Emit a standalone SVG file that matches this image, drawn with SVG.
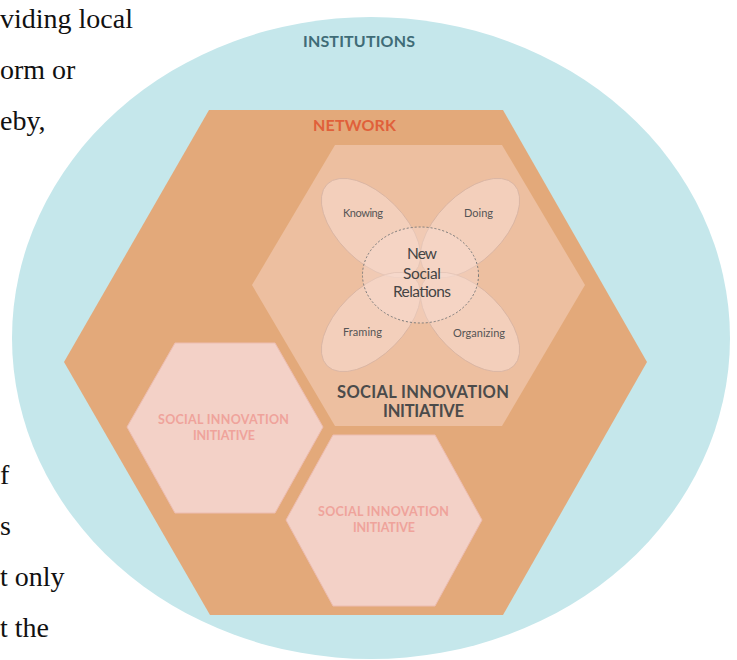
<svg xmlns="http://www.w3.org/2000/svg" width="737" height="660" viewBox="0 0 737 660">
  <style>
    .body { font-family: "Liberation Serif", "Times New Roman", serif; font-size: 28px; fill: #111; }
    .cap { font-family: Lato, "Noto Sans", "Liberation Sans", sans-serif; font-weight: 700; text-anchor: middle; }
    .lbl { font-family: Lato, "Noto Sans", "Liberation Sans", sans-serif; font-size: 11px; fill: #555; text-anchor: middle; }
    .nsr { font-family: Lato, "Noto Sans", "Liberation Sans", sans-serif; font-size: 15.5px; fill: #444; text-anchor: middle; }
    .petal { fill: #F7DDD1; fill-opacity: 0.55; stroke: #D6B2A2; stroke-width: 0.8; }
    .small-hex { fill: #F3D1C7; stroke: #EDBDB1; stroke-width: 1; }
    .small-txt { font-size: 12.5px; fill: #EFA39B; }
  </style>

  <g id="page-text">
    <text class="body" x="0" y="28">viding local</text>
    <text class="body" x="0" y="79">orm or</text>
    <text class="body" x="0" y="130">eby,</text>
    <text class="body" x="0" y="484">f</text>
    <text class="body" x="0" y="535">s</text>
    <text class="body" x="0" y="586">t only</text>
    <text class="body" x="0" y="637">t the</text>
  </g>

  <g id="institutions">
    <ellipse cx="371" cy="338" rx="359" ry="321" fill="#C5E7EB"/>
    <text class="cap" x="359" y="47" font-size="16" fill="#3F6C77" textLength="112">INSTITUTIONS</text>
  </g>

  <g id="network">
    <polygon points="209,110 503,110 647,362 503,615 210,615 64,362" fill="#E3A97A"/>
    <text class="cap" x="354.5" y="130.5" font-size="16" fill="#E0603A" textLength="83">NETWORK</text>
  </g>

  <g id="sii-main">
    <polygon points="335,145 502,145 585,285 502,426 335,426 252,285" fill="#EDBFA0"/>
    <text class="cap" x="423" y="398" font-size="16.5" fill="#4B4B4B" textLength="172">SOCIAL INNOVATION</text>
    <text class="cap" x="423.5" y="417" font-size="16.5" fill="#4B4B4B" textLength="81">INITIATIVE</text>
  </g>

  <g id="petal-knowing">
    <ellipse class="petal" cx="371" cy="228" rx="62" ry="33" transform="rotate(45 371 228)"/>
    <text class="lbl" x="363" y="217" textLength="40">Knowing</text>
  </g>
  <g id="petal-doing">
    <ellipse class="petal" cx="470" cy="228" rx="62" ry="33" transform="rotate(-45 470 228)"/>
    <text class="lbl" x="478.5" y="217" textLength="29">Doing</text>
  </g>
  <g id="petal-framing">
    <ellipse class="petal" cx="371" cy="322" rx="62" ry="33" transform="rotate(-45 371 322)"/>
    <text class="lbl" x="362.5" y="336" textLength="39">Framing</text>
  </g>
  <g id="petal-organizing">
    <ellipse class="petal" cx="470" cy="322" rx="62" ry="33" transform="rotate(45 470 322)"/>
    <text class="lbl" x="479" y="337" textLength="52">Organizing</text>
  </g>

  <g id="new-social-relations">
    <ellipse cx="420.5" cy="275" rx="58" ry="48" fill="#F7DDD1" fill-opacity="0.4" stroke="#7A7A7A" stroke-width="1" stroke-dasharray="2 2"/>
    <text class="nsr" x="422" y="259" textLength="30">New</text>
    <text class="nsr" x="422" y="279" textLength="38">Social</text>
    <text class="nsr" x="422" y="297" textLength="58">Relations</text>
  </g>

  <g id="sii-1">
    <polygon class="small-hex" points="175,343 275,343 323,427 275,513 175,513 127,427"/>
    <text class="cap small-txt" x="223.5" y="424" textLength="131">SOCIAL INNOVATION</text>
    <text class="cap small-txt" x="224" y="440" textLength="62">INITIATIVE</text>
  </g>

  <g id="sii-2">
    <polygon class="small-hex" points="333,435 435,435 482,520 435,606 333,606 286,520"/>
    <text class="cap small-txt" x="383.5" y="516" textLength="131">SOCIAL INNOVATION</text>
    <text class="cap small-txt" x="384" y="532" textLength="62">INITIATIVE</text>
  </g>

  <g id="connectors"/>
</svg>
